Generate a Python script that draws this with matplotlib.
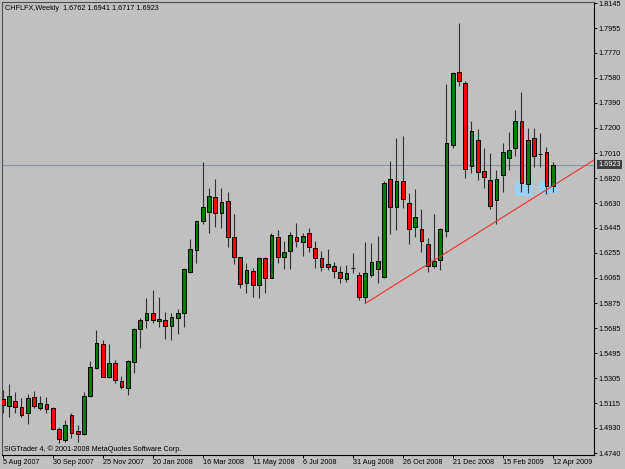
import numpy as np
import pandas as pd
import matplotlib
matplotlib.use('Agg')
import matplotlib.pyplot as plt
from matplotlib.patches import Rectangle

# weekly CHFLFX candles, 5 Aug 2007 .. 12 Apr 2009
opens = [1.5146, 1.5098, 1.5133, 1.5088, 1.5040, 1.5164, 1.5083, 1.5111, 1.5078, 1.4922,
         1.4838, 1.5027, 1.4909, 1.4881, 1.5171, 1.5381, 1.5564, 1.5312, 1.5423, 1.5287,
         1.5229, 1.5426, 1.5680, 1.5746, 1.5796, 1.5741, 1.5746, 1.5703, 1.5763, 1.5801,
         1.6112, 1.6276, 1.6495, 1.6566, 1.6679, 1.6558, 1.6646, 1.6372, 1.6221, 1.6024,
         1.6115, 1.6011, 1.6213, 1.6066, 1.6377, 1.6225, 1.6268, 1.6377, 1.6339, 1.6407,
         1.6288, 1.6213, 1.6170, 1.6157, 1.6112, 1.6054, 1.6142, 1.6084, 1.5918, 1.6086,
         1.6129, 1.6069, 1.6811, 1.6599, 1.6801, 1.6634, 1.6447, 1.6432, 1.6319, 1.6157,
         1.6200, 1.6420, 1.7071, 1.7623, 1.7537, 1.6915, 1.7109, 1.6874, 1.6806, 1.6652,
         1.6843, 1.6970, 1.7049, 1.7252, 1.6778, 1.7126, 1.7000, 1.7015, 1.6762]
highs = [1.5217, 1.5262, 1.5202, 1.5156, 1.5186, 1.5211, 1.5174, 1.5164, 1.5090, 1.4939,
         1.4990, 1.5040, 1.4949, 1.5204, 1.5439, 1.5670, 1.5595, 1.5562, 1.5444, 1.5323,
         1.5444, 1.5683, 1.5763, 1.5915, 1.5973, 1.5922, 1.5806, 1.5801, 1.5829, 1.6137,
         1.6360, 1.6503, 1.6944, 1.6743, 1.6811, 1.6747, 1.6717, 1.6548, 1.6221, 1.6175,
         1.6137, 1.6225, 1.6225, 1.6402, 1.6427, 1.6346, 1.6414, 1.6483, 1.6402, 1.6440,
         1.6344, 1.6268, 1.6281, 1.6187, 1.6155, 1.6162, 1.6250, 1.6107, 1.6339, 1.6327,
         1.6382, 1.6801, 1.6952, 1.7121, 1.7138, 1.6709, 1.6737, 1.6584, 1.6364, 1.6546,
         1.6442, 1.7532, 1.7625, 1.7991, 1.7557, 1.7250, 1.7191, 1.7045, 1.7008, 1.6881,
         1.7083, 1.7171, 1.7335, 1.7469, 1.7197, 1.7202, 1.7164, 1.7057, 1.6941]
lows = [1.5045, 1.5015, 1.5045, 1.5015, 1.4957, 1.5078, 1.5063, 1.5040, 1.4914, 1.4814,
        1.4825, 1.4851, 1.4825, 1.4876, 1.5166, 1.5373, 1.5312, 1.5305, 1.5272, 1.5222,
        1.5179, 1.5344, 1.5536, 1.5683, 1.5726, 1.5695, 1.5605, 1.5597, 1.5640, 1.5695,
        1.6104, 1.6175, 1.6473, 1.6405, 1.6450, 1.6443, 1.6300, 1.6170, 1.5986, 1.5948,
        1.5922, 1.5910, 1.5948, 1.6062, 1.6175, 1.6132, 1.6132, 1.6300, 1.6230, 1.6262,
        1.6137, 1.6117, 1.6124, 1.6062, 1.6029, 1.6036, 1.6099, 1.5897, 1.5872, 1.6073,
        1.6024, 1.6062, 1.6395, 1.6427, 1.6591, 1.6319, 1.6377, 1.6262, 1.6112, 1.6137,
        1.6124, 1.6377, 1.7046, 1.7521, 1.6818, 1.6862, 1.6806, 1.6743, 1.6586, 1.6473,
        1.6712, 1.6882, 1.6990, 1.6712, 1.6705, 1.6907, 1.6907, 1.6697, 1.6717]
closes = [1.5103, 1.5171, 1.5090, 1.5030, 1.5154, 1.5096, 1.5116, 1.5071, 1.4924, 1.4844,
          1.4952, 1.4889, 1.4881, 1.5171, 1.5388, 1.5572, 1.5312, 1.5420, 1.5292, 1.5242,
          1.5436, 1.5676, 1.5746, 1.5801, 1.5746, 1.5751, 1.5703, 1.5766, 1.5801, 1.6129,
          1.6286, 1.6498, 1.6604, 1.6687, 1.6558, 1.6637, 1.6372, 1.6225, 1.6016, 1.6124,
          1.6013, 1.6213, 1.6066, 1.6390, 1.6225, 1.6261, 1.6387, 1.6342, 1.6384, 1.6296,
          1.6213, 1.6149, 1.6145, 1.6119, 1.6062, 1.6104, 1.6142, 1.5922, 1.6099, 1.6182,
          1.6192, 1.6781, 1.6598, 1.6801, 1.6659, 1.6432, 1.6528, 1.6344, 1.6157, 1.6192,
          1.6432, 1.7084, 1.7613, 1.7557, 1.6889, 1.7174, 1.6864, 1.6830, 1.6611, 1.6811,
          1.7015, 1.7033, 1.7252, 1.6786, 1.7109, 1.6990, 1.7000, 1.6762, 1.6923]

dates = pd.date_range('2007-08-05', periods=len(opens), freq='W-SUN')
price_labels = ["1.8145", "1.7955", "1.7770", "1.7580", "1.7390", "1.7200", "1.7010",
                "1.6820", "1.6630", "1.6445", "1.6255", "1.6065", "1.5875", "1.5685",
                "1.5495", "1.5305", "1.5115", "1.4930", "1.4740"]
last_price = 1.6923

# trendline (bar index, price) and highlight boxes (x0, x1, y0, y1)
trend_x = [58, 94.6]
trend_y = [1.5872, 1.6957]
boxes = [(81.97, 84.9, 1.6687, 1.6793), (85.85, 88.9, 1.6705, 1.6800)]

bg = '#c0c0c0'
fnt = 'Liberation Sans'
fs = 5.2

fig = plt.figure(figsize=(6.25, 4.69), dpi=100)
fig.patch.set_facecolor(bg)
ax = fig.add_axes([2/625, 1 - 455/469, 592/625, 453/469])
ax.set_facecolor(bg)

x = np.arange(len(opens))
o = np.array(opens); c = np.array(closes)
up = c >= o
cols = np.where(up, '#008000', '#ff0000')

ax.vlines(x, lows, highs, color='#303030', lw=0.8, zorder=2)
ax.bar(x, c - o, bottom=o, width=0.62, color=cols, edgecolor='black', linewidth=0.7, zorder=3)

for x0, x1, y0, y1 in boxes:
    ax.add_patch(Rectangle((x0, y0), x1 - x0, y1 - y0, facecolor='#99d0f5', edgecolor='none', zorder=1))

ax.axhline(last_price, color='#8796a5', lw=0.8, zorder=1)
ax.plot(trend_x, trend_y, color='#f03030', lw=0.8, zorder=4)

ax.set_xlim(-0.11, 94.6)
ax.set_ylim(1.4725, 1.8153)

ax.yaxis.tick_right()
ax.set_yticks([float(s) for s in price_labels])
ax.set_yticklabels(price_labels, fontsize=fs, family=fnt)
ax.set_xticks(x[::8])
ax.set_xticklabels([f"{d.day} {d:%b %Y}" for d in dates[::8]], fontsize=fs, family=fnt, ha='left')
ax.tick_params(axis='y', length=2.2, width=0.7, pad=1.0, colors='black')
ax.tick_params(axis='x', length=2.2, width=0.7, pad=0.8, colors='black')

for s in ['left', 'top']:
    ax.spines[s].set_color('#505050')
for s in ['right', 'bottom']:
    ax.spines[s].set_color('black')
for s in ax.spines.values():
    s.set_linewidth(0.8)

fig.text(5/625, 1 - 8/469, "CHFLFX,Weekly  1.6762 1.6941 1.6717 1.6923",
         fontsize=fs, family=fnt, va='center', ha='left')
fig.text(4/625, 1 - 449/469, "SIGTrader 4, \u00a9 2001-2008 MetaQuotes Software Corp.",
         fontsize=fs, family=fnt, va='center', ha='left')
fig.text(598.5/625, 1 - 164.7/469, f"{last_price:.4f}", fontsize=fs, family=fnt,
         color='white', va='center', ha='left',
         bbox=dict(facecolor='#404040', edgecolor='none', pad=0.8))

fig.savefig('out.png', dpi=100, facecolor=bg)
